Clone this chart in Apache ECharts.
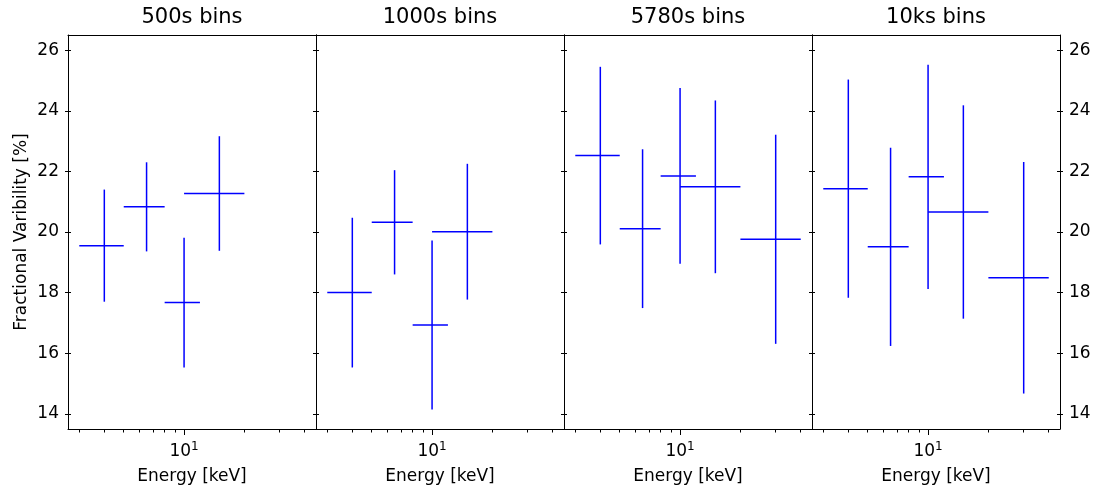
<!DOCTYPE html>
<html>
<head>
<meta charset="utf-8">
<script src="https://cdn.jsdelivr.net/npm/echarts@6/dist/echarts.min.js"></script>
<style>
html,body{margin:0;padding:0;background:#fff;}
#chart{width:1102px;height:488px;}
</style>
</head>
<body>
<div id="chart"></div>
<script>
// ---------- data ----------
const panelTitles = ['500s bins', '1000s bins', '5780s bins', '10ks bins'];
const binLo = [3, 5, 8, 10, 20];          // keV
const binHi = [5, 8, 12, 20, 40];         // keV
const binCenter = [4, 6.5, 10, 15, 30];   // keV
const fv500   = [19.55, 20.83, 17.67, 21.27];
const err500  = [1.85, 1.47, 2.14, 1.89];
const fv1000  = [18.00, 20.32, 16.93, 20.01];
const err1000 = [2.47, 1.72, 2.79, 2.24];
const fv5780  = [22.52, 20.11, 21.85, 21.49, 19.76];
const err5780 = [2.93, 2.62, 2.90, 2.85, 3.45];
const fv10k   = [21.43, 19.51, 21.82, 20.66, 18.49];
const err10k  = [3.60, 3.27, 3.70, 3.52, 3.82];
const yTicks = [14, 16, 18, 20, 22, 24, 26];
const xMajorTicks = [10];
const xMinorTicks = [3, 4, 5, 6, 7, 8, 9, 20, 30, 40];

const panelValues = [fv500, fv1000, fv5780, fv10k];
const panelErrors = [err500, err1000, err5780, err10k];

// ---------- layout / style ----------
const FONT = 'DejaVu Sans';
const xMin = 2.6355, xMax = 45.53;
const yMin = 13.5, yMax = 26.5;
const gridLeft0 = 68, gridW = 248, gridTop = 35, gridH = 394;
const lgMin = Math.log10(xMin), lgMax = Math.log10(xMax);
const black = '#000000';

const grid = [], xAxis = [], yAxis = [], series = [];
panelTitles.forEach((title, i) => {
  grid.push({left: gridLeft0 + gridW * i, top: gridTop, width: gridW, height: gridH, outerBoundsMode: 'none', containLabel: false});
  // data axis (log)
  xAxis.push({
    type: 'log', logBase: 10, gridIndex: i, position: 'bottom', min: xMin, max: xMax,
    axisLine: {show: true, lineStyle: {color: black, width: 1}},
    axisTick: {show: false}, axisLabel: {show: false}, splitLine: {show: false}, minorTick: {show: false}
  });
  // major ticks (log10 space)
  xAxis.push({
    type: 'value', gridIndex: i, position: 'bottom', min: lgMin, max: lgMax,
    axisLine: {show: false},
    axisTick: {show: true, length: 6, lineStyle: {color: black, width: 1}, customValues: xMajorTicks.map(Math.log10)},
    axisLabel: {show: true, margin: 12, customValues: xMajorTicks.map(Math.log10),
      formatter: v => '{b|10}{s|' + Math.round(v) + '}',
      rich: {
        b: {fontSize: 17, lineHeight: 22, fontFamily: FONT, color: black},
        s: {fontSize: 12, lineHeight: 12, fontFamily: FONT, color: black, verticalAlign: 'top'}
      }},
    splitLine: {show: false},
    name: 'Energy [keV]', nameLocation: 'middle', nameGap: 39,
    nameTextStyle: {fontSize: 17, fontFamily: FONT, color: black}
  });
  // minor ticks
  xAxis.push({
    type: 'value', gridIndex: i, position: 'bottom', min: lgMin, max: lgMax,
    axisLine: {show: false},
    axisTick: {show: true, length: 3.5, lineStyle: {color: black, width: 1}, customValues: xMinorTicks.map(Math.log10)},
    axisLabel: {show: false}, splitLine: {show: false}
  });
  // top border + title
  xAxis.push({
    type: 'value', gridIndex: i, position: 'top', min: lgMin, max: lgMax,
    axisLine: {show: true, lineStyle: {color: black, width: 1}},
    axisTick: {show: false}, axisLabel: {show: false}, splitLine: {show: false},
    name: title, nameLocation: 'middle', nameGap: 7,
    nameTextStyle: {fontSize: 21, fontFamily: FONT, color: black}
  });
  const mkY = (pos, inside, line, label) => ({
    type: 'value', gridIndex: i, position: pos, min: yMin, max: yMax,
    axisLine: {show: line, lineStyle: {color: black, width: 1}},
    axisTick: {show: true, inside: inside, length: 3, lineStyle: {color: black, width: 1}, customValues: yTicks},
    axisLabel: {show: label, margin: 9, customValues: yTicks, fontSize: 17, fontFamily: FONT, color: black},
    splitLine: {show: false}
  });
  const yl = mkY('left', false, true, i === 0);
  if (i === 0) {
    yl.name = 'Fractional Varibility [%]';
    yl.nameLocation = 'middle';
    yl.nameGap = 38;
    yl.nameTextStyle = {fontSize: 17, fontFamily: FONT, color: black};
  }
  yAxis.push(yl);
  yAxis.push(mkY('left', true, false, false));
  yAxis.push(mkY('right', false, true, i === panelTitles.length - 1));
  yAxis.push(mkY('right', true, false, false));

  const vals = panelValues[i], errs = panelErrors[i];
  const data = vals.map((v, k) => [binCenter[k], v, binLo[k], binHi[k], v - errs[k], v + errs[k]]);
  series.push({
    type: 'custom', xAxisIndex: 4 * i, yAxisIndex: 4 * i, data: data,
    encode: {x: 0, y: 1}, silent: true, clip: false,
    renderItem: (params, api) => {
      const x = api.value(0), y = api.value(1);
      const a = api.coord([api.value(2), y]), b = api.coord([api.value(3), y]);
      const c = api.coord([x, api.value(4)]), d = api.coord([x, api.value(5)]);
      const st = {stroke: '#0000ff', lineWidth: 1.5};
      return {type: 'group', children: [
        {type: 'line', shape: {x1: a[0], y1: a[1], x2: b[0], y2: b[1]}, style: st},
        {type: 'line', shape: {x1: c[0], y1: c[1], x2: d[0], y2: d[1]}, style: st}
      ]};
    }
  });
});

const chart = echarts.init(document.getElementById('chart'), null, {renderer: 'canvas'});
chart.setOption({
  animation: false,
  backgroundColor: '#ffffff',
  textStyle: {fontFamily: FONT},
  grid, xAxis, yAxis, series
});
</script>
</body>
</html>
